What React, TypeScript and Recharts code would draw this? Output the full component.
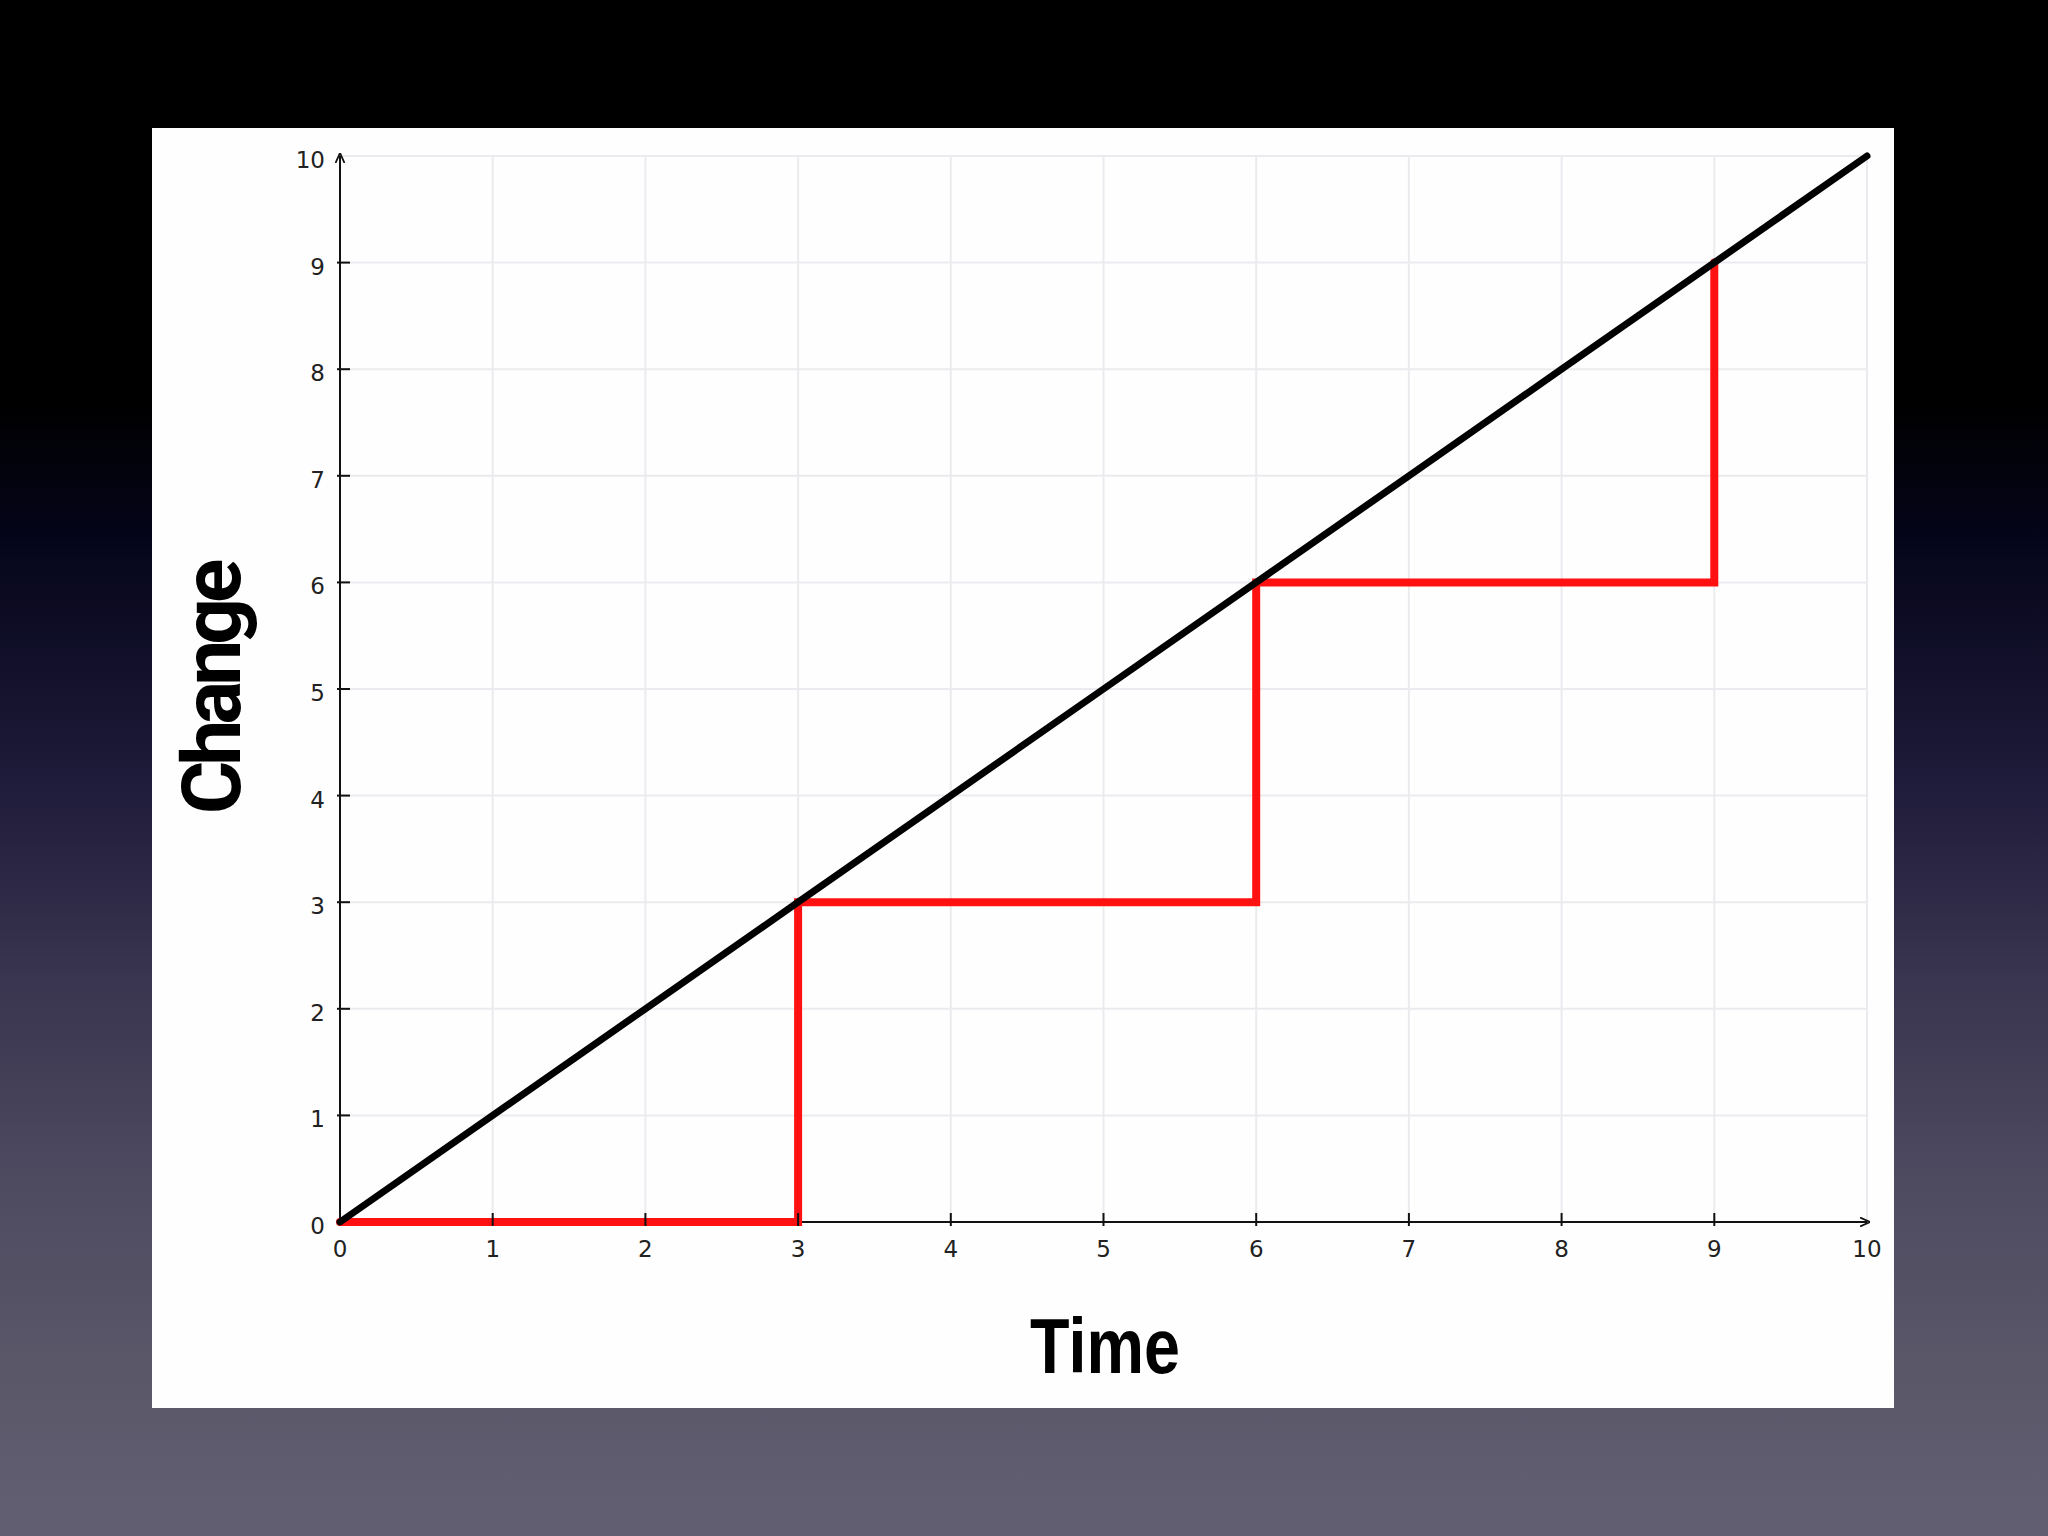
import React from 'react';
import { LineChart, Line, XAxis, YAxis, CartesianGrid } from 'recharts';

const xTicks = [0, 1, 2, 3, 4, 5, 6, 7, 8, 9, 10];
const yTicks = [0, 1, 2, 3, 4, 5, 6, 7, 8, 9, 10];
const idealX = [0, 1, 2, 3, 4, 5, 6, 7, 8, 9, 10];
const idealY = [0, 1, 2, 3, 4, 5, 6, 7, 8, 9, 10];
const stepX = [0, 3, 6, 9];
const stepY = [0, 3, 6, 9];

const idealData = idealX.map((x, i) => ({ x, y: idealY[i] }));
const stepData = stepX.map((x, i) => ({ x, y: stepY[i] }));

const TS = 0;
const TM_X = 26;
const TM_Y = 15;

const XTick = (props: any) => {
  const { x, y, payload } = props;
  const ay = y - TS - TM_X;
  const v = payload.value;
  return (
    <g>
      {v !== 0 && v !== 10 && (
        <line x1={x} x2={x} y1={ay - 9} y2={ay + 4} stroke="#111" strokeWidth={2} />
      )}
      <text x={x} y={y} dy={9} textAnchor="middle" fontFamily="DejaVu Sans" fontSize={23} fill="#222">
        {v}
      </text>
    </g>
  );
};

const YTick = (props: any) => {
  const { x, y, payload } = props;
  const ax = x + TS + TM_Y;
  const v = payload.value;
  return (
    <g>
      {v !== 0 && v !== 10 && (
        <line x1={ax - 3} x2={ax + 10} y1={y} y2={y} stroke="#111" strokeWidth={2} />
      )}
      <text x={x} y={y} dy={12} textAnchor="end" fontFamily="DejaVu Sans" fontSize={23} fill="#222">
        {v}
      </text>
    </g>
  );
};

export default function App() {
  const lineZ: any = { zIndex: 800 };
  const lineZ2: any = { zIndex: 900 };
  return (
    <div
      style={{
        position: 'absolute',
        left: 0,
        top: 0,
        width: 2048,
        height: 1536,
        overflow: 'hidden',
        background:
          'linear-gradient(to bottom, #000 0%, #000 26%, #05051a 35%, #1f1b3a 51%, #3a3550 64%, #4d495f 76%, #5a5769 89%, #625f72 100%)',
      }}
    >
      <div
        style={{
          position: 'absolute',
          left: 152,
          top: 128,
          width: 1742,
          height: 1280,
          background: '#fefefe',
        }}
      />
      <div style={{ position: 'absolute', left: 0, top: 0 }}>
        <LineChart
          width={2048}
          height={1536}
          margin={{ top: 156, right: 181, bottom: 313, left: 339 }}
        >
          <defs>
            <marker
              id="arrowHead"
              viewBox="0 0 10 10"
              refX="7"
              refY="5"
              markerWidth="10"
              markerHeight="10"
              markerUnits="userSpaceOnUse"
              orient="auto-start-reverse"
            >
              <path d="M0,0.5 L10,5 L0,9.5" fill="none" stroke="#111" strokeWidth={1.8} />
            </marker>
          </defs>
          <CartesianGrid stroke="#ebebef" strokeWidth={2} />
          <XAxis
            type="number"
            dataKey="x"
            domain={[0, 10]}
            ticks={xTicks}
            height={1}
            tickSize={TS}
            tickMargin={TM_X}
            tickLine={false}
            axisLine={{ stroke: '#111', strokeWidth: 2, markerEnd: 'url(#arrowHead)' }}
            tick={<XTick />}
          />
          <YAxis
            type="number"
            dataKey="y"
            domain={[0, 10]}
            ticks={yTicks}
            width={1}
            tickSize={TS}
            tickMargin={TM_Y}
            tickLine={false}
            axisLine={{ stroke: '#111', strokeWidth: 2, markerStart: 'url(#arrowHead)' }}
            tick={<YTick />}
          />
          <Line
            {...lineZ}
            data={stepData}
            dataKey="y"
            type="stepAfter"
            stroke="#ff1111"
            strokeWidth={8}
            strokeLinecap="round"
            strokeLinejoin="miter"
            dot={false}
            activeDot={false}
            isAnimationActive={false}
          />
          <Line
            {...lineZ2}
            data={idealData}
            dataKey="y"
            type="linear"
            stroke="#000"
            strokeWidth={7}
            strokeLinecap="round"
            dot={false}
            activeDot={false}
            isAnimationActive={false}
          />
        </LineChart>
      </div>
      <div
        style={{
          position: 'absolute',
          left: 212,
          top: 689,
          transform: 'translate(-50%, -50%) rotate(-90deg)',
          fontFamily: 'Roboto',
          fontWeight: 700,
          fontSize: 82,
          lineHeight: 1,
          letterSpacing: -5,
          color: '#000',
          whiteSpace: 'nowrap',
        }}
      >
        Change
      </div>
      <div
        style={{
          position: 'absolute',
          left: 1105,
          top: 1346,
          transform: 'translate(-50%, -50%) scaleX(0.84)',
          fontFamily: 'Liberation Sans',
          fontWeight: 700,
          fontSize: 77,
          lineHeight: 1,
          color: '#000',
          whiteSpace: 'nowrap',
        }}
      >
        Time
      </div>
    </div>
  );
}
